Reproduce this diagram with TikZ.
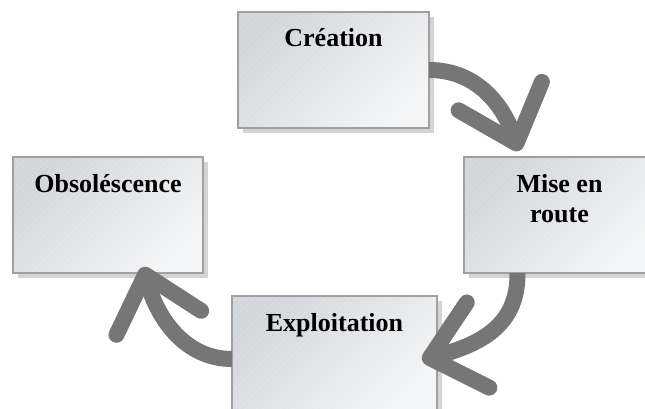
\documentclass[tikz,border=0pt]{standalone}
\usepackage{fontspec}
\setmainfont{Liberation Serif}
\usetikzlibrary{arrows.meta,shadows,patterns.meta}

\definecolor{boxdark}{HTML}{D2D5DA}
\definecolor{boxlight}{HTML}{F4F5F6}
\definecolor{boxedge}{HTML}{A0A0A0}
\definecolor{shadowgray}{HTML}{D4D4D4}
\definecolor{flow}{HTML}{767676}

\tikzset{
  stage/.style={
    anchor=north west, inner sep=0pt, outer sep=0pt,
    minimum height=116pt, text height=35pt, text depth=81pt,
    top color=boxdark, bottom color=boxlight, shading angle=45,
    general shadow={fill=shadowgray, shadow xshift=5pt, shadow yshift=-5pt},
    postaction={pattern={Lines[angle=45,distance=4pt,line width=0.4pt]},
                pattern color=white, fill opacity=0.3},
    postaction={draw=boxedge, line width=1.4pt},
    font=\fontsize{26}{30}\selectfont\bfseries
  },
  cycle arrow/.style={
    draw=flow, line width=16pt,
    -{Straight Barb[length=50pt,width=88pt,round]}
  }
}

\begin{document}
\begin{tikzpicture}[x=1pt,y=-1pt]
  \useasboundingbox (0,0) rectangle (645,409);

  % the four stages of the cycle
  \node[stage, minimum width=191pt] (cre) at (238,12) {Création};
  \node[stage, minimum width=191pt] (mise) at (464,157)
    {\parbox[t]{150pt}{\centering Mise en\\route}};
  \node[stage, minimum width=205pt] (expl) at (232,296) {Exploitation};
  \node[stage, minimum width=190pt] (obs) at (13,157) {Obsoléscence};

  % arrow tips
  \coordinate (t1) at (519,151);
  \coordinate (t2) at (422,360);
  \coordinate (t3) at (143,267);

  % curved transitions between stages
  \draw[cycle arrow] (cre.east) .. controls (480,70) and (505,110) .. (t1);
  \draw[cycle arrow] ([xshift=-42pt]mise.south) .. controls (518,322) and (486,343) .. (t2);
  \draw[cycle arrow] ([yshift=-5pt]expl.west) .. controls (186,359) and (158,320) .. (t3);
\end{tikzpicture}
\end{document}
